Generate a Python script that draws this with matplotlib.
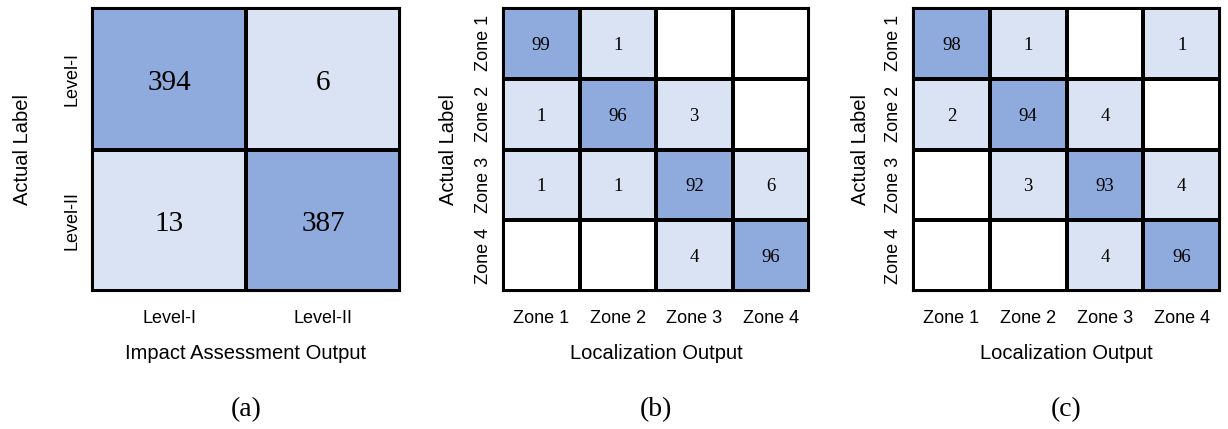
import numpy as np
import matplotlib.pyplot as plt
from matplotlib.colors import ListedColormap, BoundaryNorm

# confusion matrices (rows = actual, cols = predicted)
impact_labels = ['Level-I', 'Level-II']
impact_cm = [[394, 6],
             [13, 387]]

zone_labels = ['Zone 1', 'Zone 2', 'Zone 3', 'Zone 4']
loc_cm_b = [[99, 1, 0, 0],
            [1, 96, 3, 0],
            [1, 1, 92, 6],
            [0, 0, 4, 96]]
loc_cm_c = [[98, 1, 0, 1],
            [2, 94, 4, 0],
            [0, 3, 93, 4],
            [0, 0, 4, 96]]

panel_tags = ['(a)', '(b)', '(c)']

# white for empty cells, light blue for misclassifications, darker blue for the diagonal
cmap = ListedColormap(['#FFFFFF', '#DAE3F3', '#8FAADC'])


def draw_cm(ax, cm, labels, xlabel, num_size, ylabelpad):
    cm = np.array(cm)
    norm = BoundaryNorm([-0.5, 0.5, 0.5 * cm.max(), cm.max() + 1], cmap.N)
    ax.pcolormesh(cm, cmap=cmap, norm=norm, edgecolors='black', linewidth=1.5)
    ax.set_xlim(0, cm.shape[1])
    ax.set_ylim(cm.shape[0], 0)
    for i in range(cm.shape[0]):
        for j in range(cm.shape[1]):
            if cm[i, j] > 0:
                ax.text(j + 0.5, i + 0.53, str(cm[i, j]), ha='center', va='center',
                        fontsize=num_size, family='Liberation Serif', color='black')
    ticks = np.arange(len(labels)) + 0.5
    ax.set_xticks(ticks)
    ax.set_xticklabels(labels, fontsize=13, family='Liberation Sans')
    ax.set_yticks(ticks)
    ax.set_yticklabels(labels, fontsize=13, family='Liberation Sans',
                       rotation=90, va='center')
    ax.tick_params(axis='x', length=0, pad=14)
    ax.tick_params(axis='y', length=0, pad=8)
    ax.set_xlabel(xlabel, fontsize=14.5, family='Liberation Sans', labelpad=12)
    ax.set_ylabel('Actual Label', fontsize=14.5, family='Liberation Sans', labelpad=ylabelpad)
    for s in ax.spines.values():
        s.set_linewidth(1.5)


W, H = 1228, 429
fig = plt.figure(figsize=(W / 100, H / 100), dpi=100)

boxes = [(92, 8, 308, 283), (503, 8, 306, 283), (913, 8, 307, 283)]
axes = [fig.add_axes([x / W, (H - y - h) / H, w / W, h / H]) for x, y, w, h in boxes]

draw_cm(axes[0], impact_cm, impact_labels, 'Impact Assessment Output', 21, 23)
draw_cm(axes[1], loc_cm_b, zone_labels, 'Localization Output', 13.5, 12)
draw_cm(axes[2], loc_cm_c, zone_labels, 'Localization Output', 13.5, 11)

for ax, tag in zip(axes, panel_tags):
    fig.text(ax.get_position().x0 + ax.get_position().width / 2, 1 - 410 / H, tag,
             ha='center', va='center', fontsize=20, family='Liberation Serif')

fig.savefig('out.png', dpi=100)
